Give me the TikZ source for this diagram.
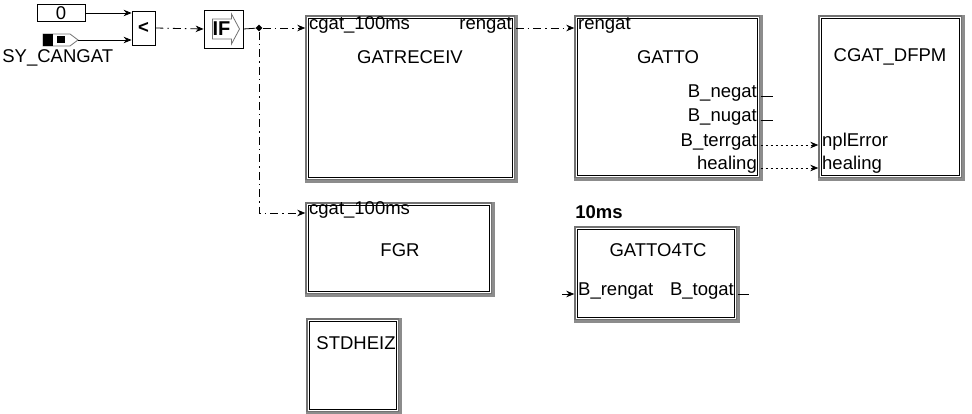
\documentclass[tikz,border=0pt]{standalone}
\usepackage{fontspec}
\setmainfont{Liberation Sans}
\usetikzlibrary{arrows.meta,shapes.geometric}

\begin{document}
\begin{tikzpicture}[x=1pt,y=-1pt,line width=0.8pt,
    >={Stealth[length=8pt,width=6.5pt]},
    font=\fontsize{18.5}{20}\selectfont]
    \tikzset{
        fblock/.style={draw=black!55,line width=1.4pt,inner sep=0pt},
        finner/.style={draw=black,line width=0.9pt},
        fshade/.style={draw=black!45,line width=2.2pt},
        sbox/.style={draw=black,line width=0.8pt,inner sep=0pt},
        port/.style={inner xsep=3.5pt,inner ysep=0pt,
            text height=0.72em,text depth=0.36em},
        title/.style={inner sep=0pt},
        dashdot/.style={dash pattern=on 8pt off 4pt on 1.5pt off 4pt},
        dotline/.style={dash pattern=on 2.5pt off 2.5pt}
    }
    \useasboundingbox (0,0) rectangle (972,414);

    % inputs
    \node[sbox,minimum width=48pt,minimum height=17pt] (zero) at (61,13) {0};
    \coordinate (sy) at (78,40);
    \draw[black!55,fill=white] (43,34) -- (70,34) -- (sy) -- (70,46)
        -- (43,46) -- cycle;
    \fill (43,34) rectangle (53,46);
    \fill (57,36.5) rectangle (65,43.5);
    \node[title,anchor=north west] (sylbl) at (2,49) {SY\_CANGAT};
    \node[sbox,minimum width=23pt,minimum height=34pt] (lt) at (143.5,28)
        {\textbf{<}};
    \node[sbox,minimum width=39pt,minimum height=38pt] (ifb) at (223.5,29) {};
    \draw[black!55,fill=white] ([shift={(-11,-10)}]ifb.center)
        -- ++(19,0) -- ++(0,-5) -- ++(8,15) -- ++(-8,15) -- ++(0,-5)
        -- ++(-19,0) -- cycle;
    \node[title,font=\fontsize{20}{20}\selectfont\bfseries] (iftxt)
        at ([xshift=-2pt]ifb.center) {IF};
    \node[diamond,fill=black,inner sep=0pt,minimum size=7pt] (jn) at (259,28) {};

    % blocks
    \node[fblock,minimum width=209pt,minimum height=164pt] (gatreceiv)
        at (410.5,98) {};
    \node[fblock,minimum width=185pt,minimum height=162pt] (gatto)
        at (667.5,97) {};
    \node[fblock,minimum width=143pt,minimum height=162pt] (dfpm)
        at (890.5,97) {};
    \node[fblock,minimum width=186pt,minimum height=91pt] (fgr)
        at (399,248.5) {};
    \node[fblock,minimum width=162pt,minimum height=93pt] (gatto4tc)
        at (656,273.5) {};
    \node[fblock,minimum width=92pt,minimum height=93pt] (stdheiz)
        at (353,365.5) {};
    \foreach \b in {gatreceiv,gatto,dfpm,fgr,gatto4tc,stdheiz} {
        \draw[fshade] ([shift={(0.8,0)}]\b.north east)
            -- ([shift={(0.8,0.8)}]\b.south east)
            -- ([shift={(0,0.8)}]\b.south west);
        \draw[finner] ([shift={(3,3)}]\b.north west)
            rectangle ([shift={(-3,-3)}]\b.south east);
    }

    \node[title] (t-rcv) at (410,57) {GATRECEIV};
    \node[title] (t-gatto) at (668,57) {GATTO};
    \node[title] (t-dfpm) at (890,57) {CGAT\_DFPM};
    \node[title] (t-fgr) at (400,250) {FGR};
    \node[title] (t-4tc) at (658,250) {GATTO4TC};
    \node[title] (t-std) at (356,343) {STDHEIZ};
    \node[title,anchor=base west,font=\fontsize{18.5}{20}\selectfont\bfseries]
        (rate) at (575,219) {10ms};

    % ports
    \node[port,anchor=west] (rcv-in) at (gatreceiv.west |- 0,28) {cgat\_100ms};
    \node[port,anchor=east] (rcv-out) at (gatreceiv.east |- 0,28) {rengat};
    \node[port,anchor=west] (gatto-in) at (gatto.west |- 0,28) {rengat};
    \node[port,anchor=east] (bneg) at (gatto.east |- 0,96) {B\_negat};
    \node[port,anchor=east] (bnug) at (gatto.east |- 0,120) {B\_nugat};
    \node[port,anchor=east] (bterr) at (gatto.east |- 0,145) {B\_terrgat};
    \node[port,anchor=east] (heal-out) at (gatto.east |- 0,168) {healing};
    \node[port,anchor=west] (nplerr) at (dfpm.west |- 0,145) {nplError};
    \node[port,anchor=west] (heal-in) at (dfpm.west |- 0,168) {healing};
    \node[port,anchor=west] (fgr-in) at (fgr.west |- 0,213) {cgat\_100ms};
    \node[port,anchor=west] (brengat) at (gatto4tc.west |- 0,294) {B\_rengat};
    \node[port,anchor=east] (btogat) at (gatto4tc.east |- 0,294) {B\_togat};
    \coordinate (bneg-end) at (773,96);
    \coordinate (bnug-end) at (773,120);
    \coordinate (rengat-src) at (562,294);
    \coordinate (btogat-end) at (749,294);

    % connectors
    \draw[->] (zero.east) -- (zero.east -| lt.west);
    \draw[->] (sy) -- (sy -| lt.west);
    \draw[->,dashdot] (lt.east) -- (ifb.west);
    \draw (ifb.east) -- (jn);
    \draw[->,dashdot] (jn) -- (rcv-in.west);
    \draw[->,dashdot] (jn) |- (fgr-in.west);
    \draw[->,dashdot] (rcv-out.east) -- (gatto-in.west);
    \draw (bneg.east) -- (bneg-end);
    \draw (bnug.east) -- (bnug-end);
    \draw[->,dotline] (bterr.east) -- (nplerr.west);
    \draw[->,dotline] (heal-out.east) -- (heal-in.west);
    \draw[->] (rengat-src) -- (brengat.west);
    \draw (btogat.east) -- (btogat-end);
\end{tikzpicture}
\end{document}
